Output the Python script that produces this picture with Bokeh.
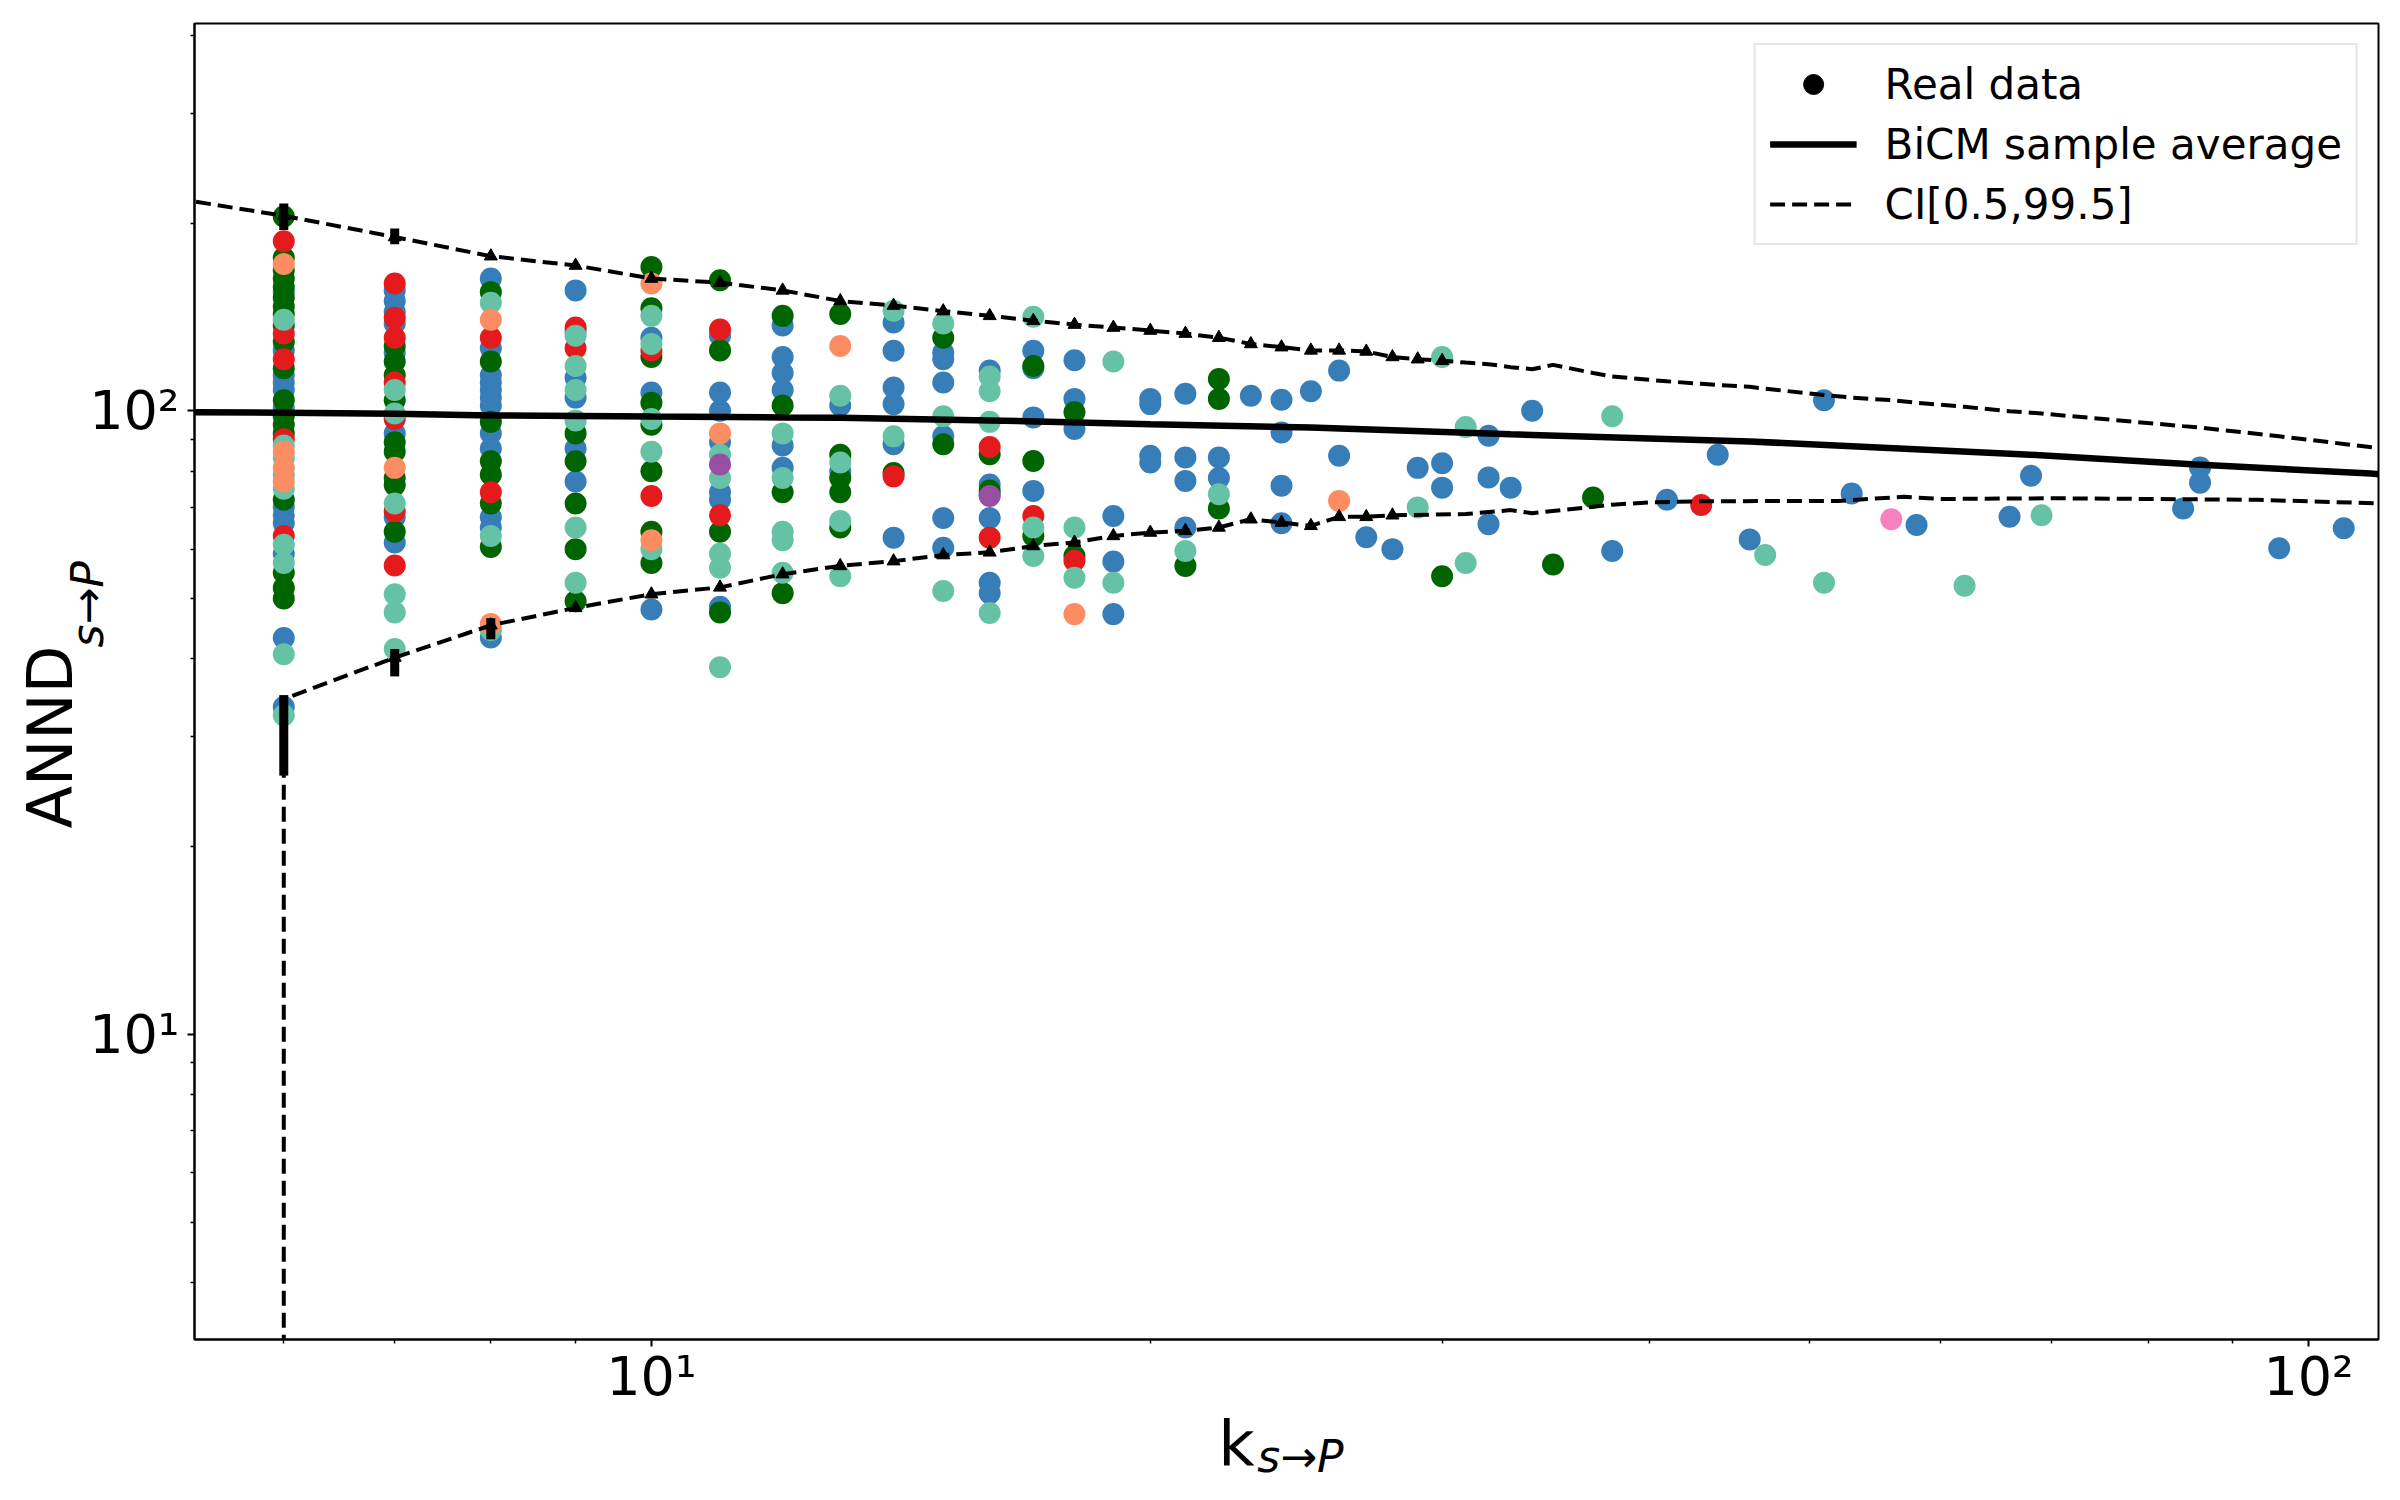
import math
from bokeh.plotting import figure
from bokeh.models import (Legend, LegendItem, FixedTicker, CustomJSTickFormatter, Title, LogAxis)
from bokeh.embed import file_html
from bokeh.resources import INLINE

# ---------------- data ----------------
# real data: k_{s->P} -> list of ANND values, one dict per colour group
blue_pts = {6: [155, 125, 114, 111, 108, 101, 70, 68, 66, 59, 43.2, 33.5],
            7: [156, 150, 144, 138, 124, 92, 67.5, 61.5],
            8: [163, 126, 114, 111, 108, 105, 102, 92, 87, 67.5, 65, 43.3],
            9: [156, 134, 113, 105, 87, 77],
            10: [131, 107, 48],
            11: [132, 107, 100, 89, 74, 72, 48.5],
            12: [137, 122, 115, 108, 88, 81],
            13: [102, 80],
            14: [138.6, 124.8, 109, 102.5, 88.4, 62.6],
            15: [124, 121, 111, 91, 67.3, 60.3],
            16: [116, 76.2, 73.5, 67.3, 53, 51],
            17: [124.8, 117, 97.6, 74.4],
            18: [120.5, 104.5, 93.5],
            19: [67.8, 57.3, 47.2],
            20: [104.5, 102.5, 84.7, 82.6],
            21: [106.5, 84.2, 77.2, 65],
            22: [84.2, 78],
            23: [105.7],
            24: [104.2, 92.3, 75.8, 66],
            25: [107.5],
            26: [116, 84.7],
            27: [62.7],
            28: [60],
            29: [81],
            30: [82.4, 75.3],
            32: [91.2, 78.2, 65.8],
            33: [75.3],
            34: [100],
            38: [59.6],
            41: [72],
            44: [85],
            46: [62.2],
            51: [104],
            53: [73.7],
            58: [65.6],
            66: [67.6],
            68: [78.7],
            84: [69.7],
            86: [81.1, 76.7],
            96: [60.2],
            105: [64.8]}

green_pts = {6: [205, 176, 168, 163, 158, 152, 147, 143, 137, 129, 117, 104, 98, 95, 92, 72, 55, 52, 50],
             7: [127, 120, 114, 104, 89, 86, 78, 76, 64],
             8: [155, 120, 96, 83, 79, 71, 60.5],
             9: [92, 83, 71, 60, 49.5],
             10: [170, 146, 122, 103, 95, 80, 64, 57],
             11: [162, 125, 64, 47.5],
             12: [142, 102, 74, 51],
             13: [143, 85, 78, 74, 65],
             14: [79.5],
             15: [131, 88.4],
             16: [85.2, 74.5],
             17: [118, 83.1, 63],
             18: [99.5, 58.5],
             21: [56.4],
             22: [112.5, 104.5, 69.7],
             30: [54.3],
             35: [56.7],
             37: [72.6]}

teal_pts = {6: [140, 88, 84, 79, 75, 61, 57, 40.7, 32.5],
            7: [108, 99, 71, 50.8, 47.5, 41.5],
            8: [149, 63, 44.5],
            9: [132, 118, 108, 96.5, 65, 53],
            10: [142, 128, 97, 86, 60],
            11: [85, 78, 59, 56, 38.8],
            12: [92, 78, 64, 62, 55],
            13: [105.7, 82.6, 66.6, 54.3],
            14: [144.7, 91],
            15: [138, 98, 51.4],
            16: [113.5, 107.5, 96, 47.4],
            17: [141.5, 65, 58.5],
            18: [65, 54],
            19: [120, 53],
            21: [59.6],
            22: [73.5],
            29: [70],
            30: [122],
            31: [94.2, 57],
            38: [98],
            47: [58.7],
            51: [53],
            62: [52.4],
            69: [68]}

red_pts = {6: [187, 133, 121, 90, 63],
           7: [160, 141, 131, 111, 97, 69, 56.5],
           8: [131, 74],
           9: [136, 126],
           10: [125, 73],
           11: [135, 68],
           14: [78.5],
           16: [87.5, 62.6],
           17: [67.8],
           18: [57.5],
           43: [70.6]}

salmon_pts = {6: [172, 86, 81, 77],
              7: [81],
              8: [140, 45.5],
              10: [160, 62],
              11: [92],
              13: [127],
              18: [47.2],
              26: [71.7]}

purple_pts = {11: [82], 16: [73]}
pink_pts = {56: [67]}

# BiCM sample average
mean_k = [5, 6, 7, 8, 10, 12, 13, 16, 20, 25, 33, 46, 67, 85, 109, 115]
mean_v = [99.6, 99.3, 98.9, 98.3, 97.9, 97.6, 97.5, 96.5, 95.2, 94.0, 91.7, 89.3, 85.2, 82.1, 79.3, 78.6]

# CI[0.5, 99.5] upper bound
ci_up_k = [5, 6, 7, 8, 9, 10, 11, 12, 13, 14, 15, 16, 17, 18, 19, 20, 21, 22, 23, 24, 25,
           26, 27, 28, 29, 30, 31, 32, 33, 34, 35, 37, 38, 41, 43, 44, 46, 47, 51, 53, 56,
           58, 62, 66, 68, 69, 84, 86, 96, 105, 115]
ci_up_v = [222, 205.5, 190, 177, 171, 163, 160.5, 156, 150, 147.5, 144.5, 142, 139.5, 137.5,
           136, 134.5, 133, 131, 128, 126.5, 125, 125, 124.5, 122, 121, 120.3, 119.5, 118.8,
           117.5, 116.6, 118.5, 115, 113.5, 111.5, 110.5, 110, 109.3, 108.5, 106, 105, 104,
           103, 101.5, 99.8, 99.3, 99, 94.5, 94, 91, 88.5, 86]

# CI[0.5, 99.5] lower bound
ci_lo_k = [6, 6, 7, 8, 9, 10, 11, 12, 13, 14, 15, 16, 17, 18, 19, 20, 21, 22, 23, 24, 25,
           26, 27, 28, 31, 33, 34, 38, 40, 43, 52, 57, 60, 70, 93, 115]
ci_lo_v = [1.0, 34.5, 40.2, 45.3, 48.3, 50.8, 52.1, 54.7, 56.4, 57.4, 58.7, 59.3, 60.7, 61.5,
           63.0, 63.8, 64.2, 65.0, 67.0, 66.2, 65.4, 67.6, 67.6, 68.0, 68.3, 69.3, 68.5, 70.7,
           71.3, 71.6, 71.7, 72.8, 72.2, 72.4, 72.0, 70.8]

# spread of the sampled bounds at the smallest degrees
blob_k = [6, 6, 7, 7, 8]
blob_lo = [195, 26, 185, 37.5, 43]
blob_hi = [215, 35, 196, 41.5, 46.5]

x_major = [10, 100]
x_minor = [6, 7, 8, 9, 20, 30, 40, 50, 60, 70, 80, 90]
y_major = [10, 100]
y_minor = [4, 5, 6, 7, 8, 9, 20, 30, 40, 50, 60, 70, 80, 90, 200, 300, 400]

legend_labels = ["Real data", "BiCM sample average", "CI[0.5,99.5]"]
x_title = ("k", "s\u2192P")
y_title = ("ANND", "s\u2192P")

# ---------------- styles ----------------
groups = [(blue_pts, "#377eb8"), (green_pts, "#006400"), (red_pts, "#e41a1c"),
          (teal_pts, "#66c2a5"), (salmon_pts, "#fc8d62"), (purple_pts, "#984ea3"),
          (pink_pts, "#f781bf")]
FONT = "DejaVu Sans"
NB = "\u00a0"

p = figure(width=2400, height=1500, x_axis_type="log", y_axis_type="log",
           x_range=(5.30, 110.2), y_range=(3.24, 418),
           output_backend="svg", toolbar_location=None,
           min_border_left=194, min_border_right=22, min_border_top=23, min_border_bottom=161)
p.title.visible = False
p.xgrid.visible = False
p.ygrid.visible = False
p.background_fill_color = "white"
p.border_fill_color = "white"
p.outline_line_color = "black"
p.outline_line_width = 2

fmt = CustomJSTickFormatter(code="""
const e = Math.round(Math.log10(tick));
const sup = {"0":"\u2070","1":"\u00b9","2":"\u00b2","3":"\u00b3"};
return "10" + String(e).split("").map(c => sup[c] || c).join("");
""")
p.xaxis.ticker = FixedTicker(ticks=x_major, minor_ticks=x_minor)
p.yaxis.ticker = FixedTicker(ticks=y_major, minor_ticks=y_minor)
for ax in (p.xaxis[0], p.yaxis[0]):
    ax.formatter = fmt
    ax.axis_line_width = 2
    ax.axis_line_color = "black"
    ax.major_tick_line_width = 2
    ax.minor_tick_line_width = 1.5
    ax.major_tick_out = 7
    ax.major_tick_in = 0
    ax.minor_tick_out = 4
    ax.minor_tick_in = 0
    ax.major_label_text_font = FONT
    ax.major_label_text_font_size = "54px"
    ax.major_label_text_color = "black"
p.xaxis.major_label_standoff = -2
p.yaxis.major_label_standoff = 8

# x-axis title: main letter on the axis, subscript on a bare second axis
xa = p.xaxis[0]
xa.axis_label = x_title[0] + NB * 5
xa.axis_label_standoff = -4
xa.axis_label_text_font = FONT
xa.axis_label_text_font_size = "63px"
xa.axis_label_text_font_style = "normal"
xa.axis_label_text_color = "black"

xsub = LogAxis(ticker=FixedTicker(ticks=[], minor_ticks=[]), axis_label=NB * 2 + x_title[1],
               axis_line_color=None, major_tick_out=0, major_tick_in=0, minor_tick_out=0,
               minor_tick_in=0, major_label_standoff=0, axis_label_standoff=-52,
               axis_label_text_font=FONT, axis_label_text_font_size="44px",
               axis_label_text_font_style="italic", axis_label_text_color="black")
p.add_layout(xsub, "below")

# scatter points
for pts, col in groups:
    ks, vs = [], []
    for k, vals in pts.items():
        for v in vals:
            ks.append(k)
            vs.append(v)
    p.scatter(ks, vs, size=22, fill_color=col, line_color=None, marker="circle")

# lines
mean_r = p.line(mean_k, mean_v, line_color="black", line_width=6.5)
up_r = p.line(ci_up_k, ci_up_v, line_color="black", line_width=4, line_dash="15 7")
lo_r = p.line(ci_lo_k, ci_lo_v, line_color="black", line_width=4, line_dash="15 7")
mk_up = [(k, v) for k, v in zip(ci_up_k, ci_up_v) if 6 <= k <= 30]
mk_lo = [(k, v) for k, v in zip(ci_lo_k, ci_lo_v) if 7 <= k <= 30]
p.scatter([a for a, b in mk_up + mk_lo], [b for a, b in mk_up + mk_lo],
          marker="triangle", size=13, fill_color="black", line_color="black")
p.segment(blob_k, blob_lo, blob_k, blob_hi, line_color="black", line_width=9)

# legend-only marker renderer (no visible position)
nan = float("nan")
dummy = p.scatter([nan], [nan], marker="circle", size=20, fill_color="black", line_color="black")

legend = Legend(items=[LegendItem(label=legend_labels[0], renderers=[dummy]),
                       LegendItem(label=legend_labels[1], renderers=[mean_r]),
                       LegendItem(label=legend_labels[2], renderers=[up_r])],
                location="top_right")
legend.margin = 20
legend.padding = 14
legend.spacing = 10
legend.glyph_width = 87
legend.glyph_height = 50
legend.label_height = 50
legend.label_standoff = 28
legend.label_text_font = FONT
legend.label_text_font_size = "42px"
legend.label_text_color = "black"
legend.border_line_color = "#cccccc"
legend.border_line_width = 2
legend.background_fill_alpha = 0.8
p.add_layout(legend)

# y-axis title with subscript
def mk_title(text, size, style, offset, standoff):
    return Title(text=text, align="left", offset=offset, vertical_align="bottom",
                 standoff=standoff, text_font=FONT, text_font_size=size,
                 text_font_style=style, text_color="black")

p.add_layout(mk_title(y_title[1], "44px", "italic", 692, -53), "left")
p.add_layout(mk_title(y_title[0], "62px", "normal", 511, 0), "left")

open("out.html", "w").write(file_html(p, INLINE))
